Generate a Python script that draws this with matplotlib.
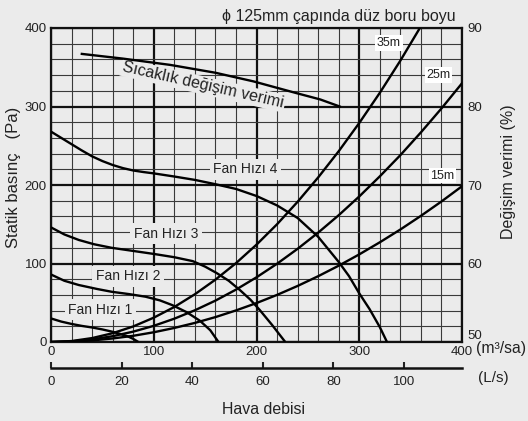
import matplotlib
matplotlib.use("Agg")
import matplotlib.pyplot as plt
from matplotlib.ticker import MultipleLocator

plt.rcParams['font.family'] = ['Liberation Sans', 'DejaVu Sans']

# fan curves (x: m3/sa, y: Pa)
fan1_x = [0, 10, 20, 30, 40, 50, 60, 68, 75, 80, 85]
fan1_y = [30, 26, 23, 20.5, 18.5, 16, 13, 10, 7, 4, 0]

fan2_x = [0, 13, 27, 45, 59, 76, 92, 106, 118, 132, 145, 155, 163]
fan2_y = [86, 78, 72.6, 67.5, 64, 61, 57.7, 53, 47, 38, 27, 15, 0]

fan3_x = [0, 13, 27, 42, 59, 80, 101, 120, 138, 150, 161, 173, 184, 194, 203, 215, 228]
fan3_y = [146, 137, 130, 124.5, 120, 116, 112, 108, 103, 96, 88, 78, 66, 54, 41, 22, 0]

fan4_x = [0, 10, 20, 30, 40, 50, 60, 70, 80, 90, 100, 120, 140, 160, 180, 200,
          220, 240, 260, 280, 290, 300, 310, 320, 327]
fan4_y = [268, 260, 252, 244, 236.5, 230.5, 225.5, 221.5, 218.5, 216.5, 214.8,
          210.8, 206.5, 201, 195, 186, 174, 158, 134, 102, 84, 62, 42, 19, 0]

fan_labels = ["Fan Hızı 1", "Fan Hızı 2", "Fan Hızı 3", "Fan Hızı 4"]
fan_label_x = [48, 75, 112, 189]
fan_label_y = [41, 84, 138, 220]

# duct resistance curves
duct_x = [0, 20, 40, 60, 80, 100, 120, 140, 160, 180, 200, 220, 240, 260, 280,
          300, 320, 340, 360, 380, 400]
d35_x = duct_x[:18] + [359]
d35_y = [0, 1.2, 5, 11.2, 19.8, 31, 44.6, 60.8, 79.4, 100.4, 124, 150, 178.6,
         209.6, 243, 279, 317.4, 358.4, 400]
d25_y = [0, 0.8, 3.3, 7.4, 13.2, 20.6, 29.7, 40.4, 52.7, 66.7, 82.4, 99.7, 118.7,
         139.3, 161.5, 185.4, 211, 238, 267, 297.5, 329.6]
d15_y = [0, 0.5, 2, 4.5, 7.9, 12.4, 17.9, 24.3, 31.7, 40.2, 49.6, 60, 71.4,
         83.8, 97.2, 111.6, 127, 143.3, 160.7, 179, 198.4]
duct_labels = ["35m", "25m", "15m"]
duct_label_x = [329, 377, 381]
duct_label_y = [381, 340, 212]

# temperature exchange efficiency (%)
eff_x = [30, 70, 116, 160, 197, 239, 262, 281]
eff_y = [86.7, 86.1, 85.3, 84.3, 83.2, 81.7, 80.9, 80.0]

# L/s scale as printed under the chart
ls_ticks = [0, 20, 40, 60, 80, 100]
ls_max = 116.4

bg = '#ebebeb'
txt = '#222222'
W, H = 528, 421

fig = plt.figure(figsize=(W / 100, H / 100), dpi=100, facecolor=bg)
ax = fig.add_axes([51 / W, (H - 342) / H, 411 / W, 314 / H])
ax.set_facecolor(bg)
ax.set_xlim(0, 400)
ax.set_ylim(0, 400)
ax.xaxis.set_major_locator(MultipleLocator(100))
ax.yaxis.set_major_locator(MultipleLocator(100))
ax.xaxis.set_minor_locator(MultipleLocator(20))
ax.yaxis.set_minor_locator(MultipleLocator(20))
ax.grid(which='minor', color='#3a3a3a', lw=0.8)
ax.grid(which='major', color='#111111', lw=1.6)
ax.set_axisbelow(True)
ax.tick_params(which='both', length=0, labelsize=9.5, colors=txt, pad=3)
for s in ax.spines.values():
    s.set_linewidth(1.6)
    s.set_color('#111111')

lw = 1.7
for x, y in [(fan1_x, fan1_y), (fan2_x, fan2_y), (fan3_x, fan3_y), (fan4_x, fan4_y)]:
    ax.plot(x, y, color='black', lw=lw, solid_capstyle='butt', zorder=3)
ax.plot(d35_x, d35_y, color='black', lw=lw, zorder=3)
ax.plot(duct_x, d25_y, color='black', lw=lw, zorder=3)
ax.plot(duct_x, d15_y, color='black', lw=lw, zorder=3)

for lab, x, y in zip(fan_labels, fan_label_x, fan_label_y):
    ax.text(x, y, lab, ha='center', va='center', fontsize=10, color=txt, zorder=2.5,
            bbox=dict(facecolor=bg, edgecolor='none', pad=2.5))
for lab, x, y in zip(duct_labels, duct_label_x, duct_label_y):
    ax.text(x, y, lab, ha='center', va='center', fontsize=9, color=txt, zorder=2.5,
            bbox=dict(facecolor='white', edgecolor='none', pad=1.2))

ax.text(148, 327, "Sıcaklık değişim verimi", ha='center', va='center', rotation=-12.8,
        rotation_mode='anchor', fontsize=11.6, color=txt, zorder=2.5,
        bbox=dict(facecolor=bg, edgecolor='none', pad=1))

# right axis: efficiency
ax2 = ax.twinx()
ax2.set_ylim(50, 90)
ax2.set_yticks([50, 60, 70, 80, 90])
ax2.tick_params(length=0, labelsize=9.5, colors=txt, pad=4)
ax2.get_yticklabels()[0].set_va('bottom')
for s in ax2.spines.values():
    s.set_visible(False)
ax2.plot(eff_x, eff_y, color='black', lw=lw, zorder=3)

# bottom L/s axis
ax3 = fig.add_axes([51 / W, (H - 368) / H, 411 / W, 0.0001])
ax3.set_facecolor('none')
ax3.set_xlim(0, ls_max)
ax3.set_xticks(ls_ticks)
ax3.set_yticks([])
for k in ['top', 'left', 'right']:
    ax3.spines[k].set_visible(False)
ax3.spines['bottom'].set_linewidth(1.8)
ax3.spines['bottom'].set_color('#111111')
ax3.tick_params(axis='x', direction='in', length=4, width=1.5, labelsize=9.5,
                colors=txt, pad=6)

fig.text(476 / W, 1 - 349 / H, "(m³/sa)", ha='left', va='center', fontsize=11.3, color=txt)
fig.text(478 / W, 1 - 378 / H, "(L/s)", ha='left', va='center', fontsize=11, color=txt)
fig.text(264 / W, 1 - 410 / H, "Hava debisi", ha='center', va='center', fontsize=11.4, color=txt)
fig.text(456 / W, 1 - 17 / H, "ϕ 125mm çapında düz boru boyu", ha='right', va='center',
         fontsize=11.5, color=txt)
fig.text(14 / W, 1 - 177 / H, "Statik basınç   (Pa)", ha='center', va='center',
         rotation=90, fontsize=12, color=txt)
fig.text(509 / W, 1 - 172 / H, "Değişim verimi (%)", ha='center', va='center',
         rotation=90, fontsize=11.5, color=txt)

plt.savefig("out.png", dpi=100, facecolor=bg)
